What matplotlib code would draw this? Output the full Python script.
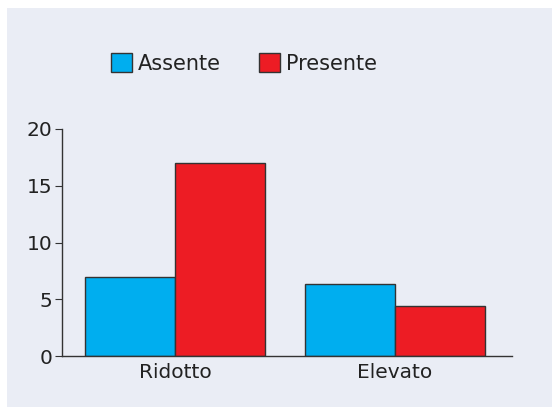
import matplotlib.pyplot as plt
from matplotlib.patches import Rectangle
import numpy as np

categories = ['Ridotto', 'Elevato']
assente = [7.0, 6.3]
presente = [17.0, 4.4]
series_names = ['Assente', 'Presente']
colors = ['#00AEEF', '#ED1C24']

plt.rcParams['font.family'] = ['DejaVu Sans']

fig = plt.figure(figsize=(5.52, 4.07), dpi=100)
fig.patch.set_facecolor('white')
# light panel behind the chart
fig.patches.append(Rectangle((7 / 552, 0), 1, 1 - 8 / 407, transform=fig.transFigure,
                             facecolor='#EAEDF5', edgecolor='none', zorder=-1))

ax = fig.add_axes([62 / 552, 51 / 407, 450 / 552, 227 / 407])
ax.set_facecolor('none')
ax.set_zorder(1)

x = np.arange(len(categories))
w = 90 / 220
b1 = ax.bar(x - w / 2, assente, w, color=colors[0], edgecolor='#333333', linewidth=1,
            label=series_names[0])
b2 = ax.bar(x + w / 2, presente, w, color=colors[1], edgecolor='#333333', linewidth=1,
            label=series_names[1])

ax.set_xlim(-113 / 220, 337 / 220)
ax.set_ylim(0, 20)
ax.set_yticks([0, 5, 10, 15, 20])
ax.set_xticks(x)
ax.set_xticklabels(categories)

for s in ['top', 'right']:
    ax.spines[s].set_visible(False)
for s in ['left', 'bottom']:
    ax.spines[s].set_color('#333333')
    ax.spines[s].set_linewidth(1)

ax.tick_params(axis='y', length=5, color='#333333', labelsize=14.5, labelcolor='#222222', pad=2)
ax.tick_params(axis='x', length=0, labelsize=14.5, labelcolor='#222222', pad=5)

fig.legend(handles=[b1, b2], labels=series_names, loc='center left',
           bbox_to_anchor=(92 / 552, 1 - 63.5 / 407), ncol=2, frameon=False,
           fontsize=15, handlelength=1.0, handleheight=1.0, handletextpad=0.3,
           columnspacing=1.85, labelcolor='#222222')

fig.savefig('out.png', dpi=100)
